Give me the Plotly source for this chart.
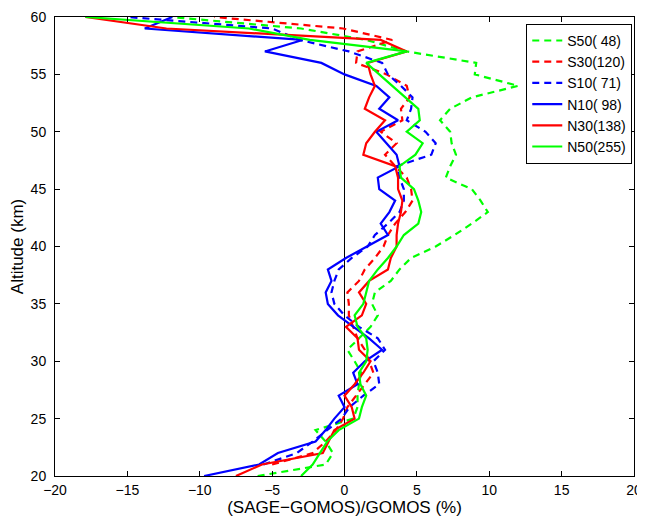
import plotly.graph_objects as go

# Altitude grids (km)
alt_full = list(range(20, 61))   # 20..60
alt_s = list(range(21, 61))      # 21..60

# Relative differences (%) per latitude band
S50 = [-6.0, -1.3, -0.8, -1.3, -2.0, 0.6, 0.9, 0.9, 1.0, 1.15, 0.7, 0.2, 1.0, 1.8, 2.3, 1.9,
       2.1, 3.2, 3.8, 4.6, 6.3, 7.6, 8.8, 9.9, 9.4, 8.8, 7.0, 7.3, 7.7, 7.4, 7.3, 6.6, 7.3,
       8.8, 12.0, 9.0, 9.1, 4.3, 1.5, -3.0, -12.0]
S30 = [-5.0, -2.2, -1.3, -0.6, -0.1, 0.2, 0.8, 1.4, 2.0, 1.7, 1.4, 0.9, 0.6, 0.3, 0.3, 0.2,
       1.0, 1.4, 2.1, 2.7, 3.0, 3.5, 4.2, 4.7, 4.6, 4.3, 3.5, 2.8, 3.6, 2.5, 4.0, 3.9, 4.5,
       4.3, 2.9, 0.8, 0.9, 3.3, -0.1, -9.0]
S10 = [-5.6, -3.3, -2.2, -1.2, -0.2, 0.35, 1.3, 2.4, 2.3, 2.0, 2.8, 2.3, 1.0, 0.0, -0.7, -0.9,
       -0.7, -0.4, 0.5, 1.6, 2.1, 3.0, 3.8, 4.1, 4.1, 3.8, 3.6, 6.0, 6.3, 5.6, 4.3, 4.6, 4.7,
       3.9, 3.0, 2.6, 0.3, -3.1, -5.0, -15.0]
N10 = [-9.7, -5.9, -4.6, -2.0, -1.3, -0.7, 0.0, -0.4, 0.9, 0.6, 1.4, 2.6, 1.7, 0.6, -0.45,
       -1.15, -1.3, -0.9, -1.15, 0.1, 1.5, 3.0, 2.5, 3.1, 3.5, 2.4, 2.3, 3.8, 3.6, 2.9, 2.2,
       3.7, 2.4, 3.1, 2.2, 0.0, -1.6, -5.5, -2.9, -13.8, -11.9]
N30 = [-7.5, -5.7, -1.5, -1.1, -0.7, 0.7, 0.5, 0.0, 0.7, 1.3, 1.8, 1.0, 0.9, 0.1, 1.2, 1.5,
       1.0, 1.7, 3.0, 3.2, 3.6, 3.6, 3.7, 3.9, 4.0, 3.7, 3.7, 3.5, 1.3, 1.5, 2.1, 2.8, 1.4,
       1.7, 2.1, 1.8, 1.6, 4.3, 2.5, -12.3, -17.9]
N50 = [-3.0, -2.2, -1.7, -1.2, -0.4, 1.0, 1.2, 1.5, 1.1, 1.0, 1.5, 1.6, 1.5, 0.9, 0.7, 1.3,
       1.5, 1.7, 2.3, 3.0, 3.6, 4.1, 5.1, 5.3, 5.1, 4.8, 3.9, 3.8, 4.9, 5.4, 4.3, 5.2, 5.1,
       4.2, 3.3, 2.4, 1.5, 4.3, -2.4, -6.6, -17.9]

names = ["S50( 48)", "S30(120)", "S10( 71)", "N10( 98)", "N30(138)", "N50(255)"]
series = [(S50, alt_full), (S30, alt_s), (S10, alt_s), (N10, alt_full), (N30, alt_full), (N50, alt_full)]
colors = ["#00ff00", "#ff0000", "#0000ff", "#0000ff", "#ff0000", "#00ff00"]
dashes = ["7px,5px", "7px,5px", "7px,5px", "solid", "solid", "solid"]

x_ticks = [-20, -15, -10, -5, 0, 5, 10, 15, 20]
y_ticks = [20, 25, 30, 35, 40, 45, 50, 55, 60]

fig = go.Figure()
for (vals, alts), name, c, d in zip(series, names, colors, dashes):
    fig.add_trace(go.Scatter(x=vals, y=alts, mode="lines", name=name,
                             line=dict(color=c, width=2.2, dash=d)))

fig.add_shape(type="line", xref="x", yref="y", x0=0, x1=0, y0=20, y1=60,
              line=dict(color="black", width=1), layer="below")

axis_common = dict(showline=True, linecolor="black", linewidth=1, mirror="ticks",
                   ticks="inside", ticklen=5, tickcolor="black", showgrid=False,
                   zeroline=False, automargin=False,
                   tickfont=dict(size=14, color="black"))

# the page adds an 8px body margin, so margins are compensated here
fig.update_layout(
    width=645, height=516,
    margin=dict(l=47, r=19, t=9, b=48),
    paper_bgcolor="white", plot_bgcolor="white",
    font=dict(family="Liberation Sans, Arial, sans-serif", color="black"),
    xaxis=dict(range=[-20, 20], tickvals=x_ticks, ticklabelstandoff=1,
               title=dict(text="(SAGE\u2212GOMOS)/GOMOS (%)", font=dict(size=17), standoff=1),
               **axis_common),
    yaxis=dict(range=[20, 60], tickvals=y_ticks, ticklabelstandoff=5,
               title=dict(text="Altitude (km)", font=dict(size=17), standoff=2),
               **axis_common),
    legend=dict(x=0.997, y=0.985, xanchor="right", yanchor="top",
                bgcolor="white", bordercolor="black", borderwidth=1,
                font=dict(size=14), tracegroupgap=0),
    showlegend=True,
)

fig.write_html("out.html")
